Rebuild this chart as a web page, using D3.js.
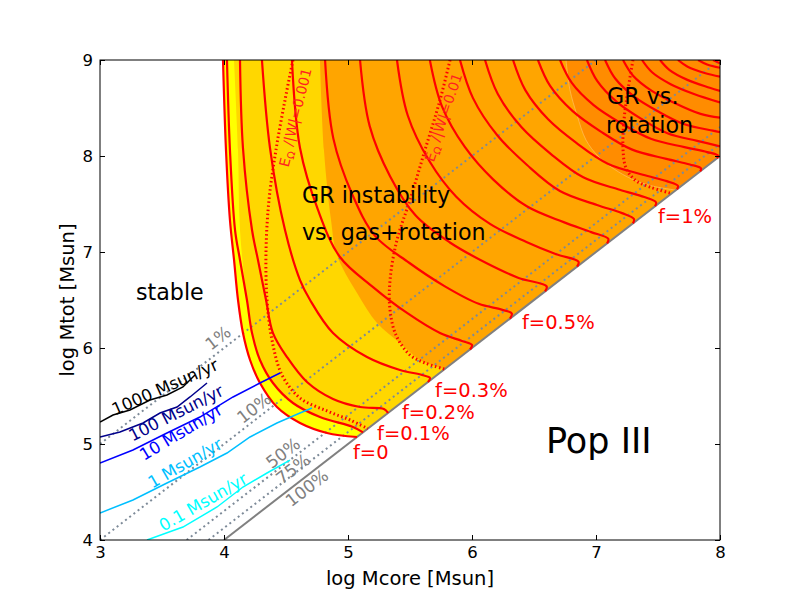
<!DOCTYPE html>
<html>
<head>
<meta charset="utf-8">
<script src="https://cdn.jsdelivr.net/npm/d3@7"></script>
<style>
  body { margin: 0; background: #fff; }
  text { font-family: "DejaVu Sans", sans-serif; }
</style>
</head>
<body>
<div id="chart"></div>
<script>
// axis ticks
const xTicks = [3, 4, 5, 6, 7, 8];
const yTicks = [4, 5, 6, 7, 8, 9];

// f = const curves as [log Mcore, log Mtot]
const fCurves = [
  [[3.992,9],[4.016,8.063],[4.048,7.333],[4.081,6.917],[4.113,6.5],[4.153,6.156],[4.21,5.875],[4.29,5.635],[4.427,5.385],[4.613,5.219],[4.831,5.115],[5.073,5.073]],
  [[4.024,9],[4.048,8.063],[4.089,7.229],[4.129,6.917],[4.185,6.5],[4.226,6.156],[4.29,5.875],[4.395,5.635],[4.556,5.427],[4.774,5.281],[5.04,5.177],[5.121,5.121]],
  [[4.129,9],[4.153,8.083],[4.226,7.229],[4.274,6.917],[4.339,6.5],[4.395,6.156],[4.508,5.906],[4.669,5.646],[4.879,5.469],[5.097,5.385],[5.29,5.365],[5.323,5.323]],
  [[4.306,9],[4.371,8.083],[4.492,7.229],[4.613,6.708],[4.694,6.5],[4.879,6.156],[5.153,5.906],[5.419,5.771],[5.597,5.719],[5.661,5.688],[5.645,5.645]],
  [[4.548,9],[4.613,8.083],[4.758,7.438],[4.935,6.948],[5.202,6.635],[5.476,6.365],[5.742,6.156],[5.919,6.073],[6.0,6.031],[5.984,5.984]],
  [[4.815,9],[4.882,8.181],[5.033,7.604],[5.218,7.168],[5.493,6.888],[5.778,6.645],[6.054,6.46],[6.239,6.4],[6.321,6.36],[6.306,6.306]],
  [[5.097,9],[5.175,8.311],[5.34,7.787],[5.544,7.382],[5.822,7.099],[6.115,6.885],[6.376,6.73],[6.602,6.642],[6.589,6.589]],
  [[5.395,9],[5.482,8.422],[5.656,7.948],[5.873,7.576],[6.145,7.293],[6.439,7.104],[6.679,6.976],[6.859,6.898],[6.847,6.847]],
  [[5.66,9],[5.757,8.52],[5.942,8.094],[6.172,7.754],[6.442,7.476],[6.739,7.311],[6.961,7.207],[7.099,7.137],[7.089,7.089]],
  [[5.903,9],[6.008,8.603],[6.202,8.219],[6.444,7.906],[6.709,7.635],[7.008,7.49],[7.21,7.405],[7.306,7.344],[7.298,7.298]],
  [[6.105,9],[6.208,8.645],[6.398,8.301],[6.637,8.02],[6.897,7.778],[7.191,7.648],[7.39,7.572],[7.484,7.517],[7.476,7.476]],
  [[6.331,9],[6.43,8.686],[6.614,8.382],[6.844,8.134],[7.095,7.92],[7.378,7.805],[7.57,7.738],[7.661,7.689],[7.653,7.653]],
  [[6.532,9],[6.63,8.73],[6.812,8.467],[7.039,8.254],[7.287,8.069],[7.567,7.97],[7.757,7.912],[7.847,7.87],[7.839,7.839]],
  [[6.71,9],[6.805,8.761],[6.981,8.53],[7.201,8.342],[7.442,8.179],[7.713,8.092],[7.896,8.041],[7.984,8.004],[7.976,7.976]],
  [[6.927,9],[7.011,8.779],[7.167,8.564],[7.363,8.389],[7.576,8.238],[7.816,8.157],[8.0,8.101]],
  [[7.073,9],[7.155,8.807],[7.308,8.619],[7.499,8.466],[7.707,8.334],[7.942,8.264],[8.0,8.249]],
  [[7.218,9],[7.299,8.837],[7.45,8.679],[7.638,8.55],[7.843,8.439],[8.0,8.399]],
  [[7.371,9],[7.452,8.872],[7.602,8.748],[7.79,8.646],[8.0,8.558]],
  [[7.516,9],[7.594,8.895],[7.737,8.793],[7.917,8.711],[8.0,8.677]],
  [[7.661,9],[7.739,8.93],[7.883,8.862],[8.0,8.827]],
  [[7.823,9],[7.896,8.953],[8.0,8.919]],
  [[7.944,9],[8.0,8.965]]
];

// labelled f curves: [text, log Mcore, log Mtot] of label baseline start
const fLabels = [
  ["f=0", 5.04, 4.84],
  ["f=0.1%", 5.234, 5.045],
  ["f=0.2%", 5.435, 5.26],
  ["f=0.3%", 5.702, 5.49],
  ["f=0.5%", 6.403, 6.198],
  ["f=1%", 7.500, 7.302]
];

// E_rot/|W| dotted contours
const eRot001 = [[4.556,9],[4.492,8.583],[4.419,8.063],[4.363,7.542],[4.339,7.021],[4.347,6.5],[4.387,6.083],[4.468,5.719],[4.613,5.479],[4.831,5.344],[5.016,5.25],[5.16,5.16]];
const eRot01 = [[5.823,9],[5.742,8.583],[5.621,8.063],[5.5,7.542],[5.395,7.125],[5.339,6.708],[5.339,6.396],[5.387,6.135],[5.5,5.927],[5.621,5.844],[5.78,5.78]];
const eRotHigh = [[7.298,9],[7.258,8.688],[7.226,8.375],[7.218,8.063],[7.242,7.875],[7.315,7.75],[7.435,7.677],[7.61,7.61]];

// region edges
const yellowEdge = [[4.081,9],[4.113,8.063],[4.129,7.229],[4.185,6.5],[4.226,6.156],[4.29,5.875],[4.395,5.635],[4.556,5.427],[4.774,5.281],[5.04,5.177],[5.121,5.121]];
const orangeEdge = [[4.774,9],[4.806,8.063],[4.863,7.333],[4.911,6.969],[5.073,6.573],[5.234,6.26],[5.419,6.052],[5.581,5.875],[5.78,5.78]];
const darkOrangeEdge = [[6.758,9],[6.79,8.688],[6.847,8.427],[6.919,8.167],[7.016,8.0],[7.145,7.865],[7.29,7.76],[7.452,7.688],[7.645,7.645]];

// accretion rate lines
const rateNames = ["1000 Msun/yr", "100 Msun/yr", "10 Msun/yr", "1 Msun/yr", "0.1 Msun/yr"];
const rateColors = ["#000000", "#00008b", "#0000ff", "#00bfff", "#00ffff"];
const rateLines = [
  [[3.0,5.229],[3.105,5.302],[3.242,5.354],[3.403,5.458],[3.54,5.51],[3.669,5.594],[3.766,5.719]],
  [[3.0,5.073],[3.161,5.125],[3.347,5.219],[3.484,5.323],[3.621,5.385],[3.726,5.49],[3.863,5.635]],
  [[3.0,4.802],[3.266,4.938],[3.54,5.115],[3.806,5.281],[4.073,5.49],[4.29,5.635],[4.452,5.74]],
  [[3.0,4.281],[3.266,4.417],[3.54,4.594],[3.806,4.76],[4.024,4.906],[4.21,5.073],[4.427,5.219],[4.613,5.323],[4.71,5.375]],
  [[3.379,4.0],[3.669,4.135],[3.944,4.344],[4.153,4.552],[4.347,4.698],[4.532,4.833]]
];
// label centre [log Mcore, log Mtot] and angle
const rateLabelPos = [[3.524,5.594,-24],[3.613,5.323,-27],[3.653,5.125,-31],[3.685,4.802,-30],[3.831,4.396,-30]];

// core mass fraction lines: Mcore/Mtot
const fracNames = ["1%", "10%", "50%", "75%", "100%"];
const fracOffsets = [2, 1, 0.301, 0.125, 0];
const fracLabelPos = [[3.952,6.104],[4.242,5.375],[4.476,4.906],[4.556,4.74],[4.669,4.542]];

const margin = { top: 60, right: 80, bottom: 60, left: 100 };
const width = 800 - margin.left - margin.right;
const height = 600 - margin.top - margin.bottom;

const svg = d3.select("#chart")
  .append("svg")
  .attr("width", 800)
  .attr("height", 600)
  .append("g")
  .attr("transform", "translate(" + margin.left + "," + margin.top + ")");

const x = d3.scaleLinear().domain([3, 8]).range([0, width]);
const y = d3.scaleLinear().domain([4, 9]).range([height, 0]);

svg.append("clipPath").attr("id", "plot-clip")
  .append("rect").attr("width", width).attr("height", height);

const plot = svg.append("g").attr("clip-path", "url(#plot-clip)");

const smooth = d3.line().x(d => x(d[0])).y(d => y(d[1])).curve(d3.curveCatmullRom.alpha(0.5));
const straight = d3.line().x(d => x(d[0])).y(d => y(d[1]));

// region filled from an edge out to the diagonal and the top-right corner
function regionPath(edge) {
  return smooth(edge) + "L" + x(8) + "," + y(8) + "L" + x(8) + "," + y(9) + "Z";
}

plot.append("path").attr("d", regionPath(fCurves[0])).attr("fill", "#ffd700");
plot.append("path").attr("d", regionPath(orangeEdge)).attr("fill", "#ffa500");
plot.append("path").attr("d", regionPath(darkOrangeEdge)).attr("fill", "#ff8c00")
  .attr("stroke", "#ffc870").attr("stroke-width", 0.6);
plot.append("path")
  .attr("d", smooth(fCurves[0]) + smooth(yellowEdge.slice().reverse()).replace(/^M/, "L") + "Z")
  .attr("fill", "#ffff00");

// mass fraction lines
fracOffsets.forEach((off, i) => {
  const x0 = Math.max(3, 4 - off);
  const x1 = Math.min(8, 9 - off);
  plot.append("path")
    .attr("d", straight([[x0, x0 + off], [x1, x1 + off]]))
    .attr("fill", "none")
    .attr("stroke", off === 0 ? "#808080" : "#7d8a98")
    .attr("stroke-width", 2)
    .attr("stroke-dasharray", off === 0 ? null : "2,3.3");
});

// f curves
plot.selectAll(".fcurve")
  .data(fCurves)
  .enter().append("path")
  .attr("class", "fcurve")
  .attr("d", smooth)
  .attr("fill", "none")
  .attr("stroke", "#ff0000")
  .attr("stroke-width", 2.2);

// rotational energy contours
[eRot001, eRot01, eRotHigh].forEach(c => {
  plot.append("path")
    .attr("d", smooth(c))
    .attr("fill", "none")
    .attr("stroke", "#ff0000")
    .attr("stroke-width", 3)
    .attr("stroke-dasharray", "1.5,2.6");
});

// accretion rate lines
rateLines.forEach((line, i) => {
  plot.append("path")
    .attr("d", straight(line))
    .attr("fill", "none")
    .attr("stroke", rateColors[i])
    .attr("stroke-width", 1.5);
});

// frame and ticks
svg.append("rect").attr("width", width).attr("height", height)
  .attr("fill", "none").attr("stroke", "#000").attr("stroke-width", 1);

svg.append("g").attr("transform", "translate(0," + height + ")")
  .call(d3.axisBottom(x).tickValues(xTicks).tickFormat(d3.format("d"))
    .tickSizeInner(-5).tickSizeOuter(0).tickPadding(6));
svg.append("g")
  .call(d3.axisLeft(y).tickValues(yTicks).tickFormat(d3.format("d"))
    .tickSizeInner(-5).tickSizeOuter(0).tickPadding(7));
svg.append("g")
  .call(d3.axisTop(x).tickValues(xTicks).tickSizeInner(-5).tickSizeOuter(0).tickFormat(""));
svg.append("g").attr("transform", "translate(" + width + ",0)")
  .call(d3.axisRight(y).tickValues(yTicks).tickSizeInner(-5).tickSizeOuter(0).tickFormat(""));
svg.selectAll(".domain").remove();
svg.selectAll(".tick line").attr("stroke", "#000");
svg.selectAll(".tick text").attr("font-size", 16.5).attr("fill", "#000")
  .style("font-family", "DejaVu Sans");

// axis labels
svg.append("text").attr("x", width / 2).attr("y", height + 45)
  .attr("text-anchor", "middle").attr("font-size", 19.5).text("log Mcore [Msun]");
svg.append("text").attr("transform", "translate(-26," + height / 2 + ") rotate(-90)")
  .attr("text-anchor", "middle").attr("font-size", 19.5).text("log Mtot [Msun]");

// region labels
const regionLabels = [
  ["stable", 3.290, 6.5],
  ["GR instability", 4.629, 7.51],
  ["vs. gas+rotation", 4.629, 7.125],
  ["GR vs.", 7.089, 8.542],
  ["rotation", 7.081, 8.24]
];
regionLabels.forEach(l => {
  svg.append("text").attr("x", x(l[1])).attr("y", y(l[2]))
    .attr("font-size", 22.2).attr("fill", "#000").text(l[0]);
});
svg.append("text").attr("x", x(6.597)).attr("y", y(4.906))
  .attr("font-size", 35).attr("fill", "#000").text("Pop III");

// f labels
fLabels.forEach(l => {
  svg.append("text").attr("x", x(l[1])).attr("y", y(l[2]))
    .attr("font-size", 19.5).attr("fill", "#ff0000").text(l[0]);
});

// rate labels
rateLabelPos.forEach((p, i) => {
  svg.append("text")
    .attr("transform", "translate(" + x(p[0]) + "," + y(p[1]) + ") rotate(" + p[2] + ")")
    .attr("text-anchor", "middle").attr("dy", "0.35em")
    .attr("font-size", 16.7).attr("fill", rateColors[i]).text(rateNames[i]);
});

// fraction labels
fracLabelPos.forEach((p, i) => {
  svg.append("text")
    .attr("transform", "translate(" + x(p[0]) + "," + y(p[1]) + ") rotate(-37.7)")
    .attr("text-anchor", "middle").attr("dy", "0.35em")
    .attr("font-size", 17).attr("fill", "#808080").text(fracNames[i]);
});

// E_rot/|W| labels
const eLabels = [["=0.001", 4.58, 8.40, -76], ["=0.01", 5.774, 8.40, -71]];
eLabels.forEach(l => {
  const t = svg.append("text")
    .attr("transform", "translate(" + x(l[1]) + "," + y(l[2]) + ") rotate(" + l[3] + ")")
    .attr("text-anchor", "middle").attr("dy", "0.35em")
    .attr("font-size", 14).attr("fill", "#ff2020");
  t.append("tspan").text("E");
  t.append("tspan").attr("font-size", 10).attr("dy", "0.3em").text("\u03a9");
  t.append("tspan").attr("dy", "-0.3em").text(" /|W|" + l[0]);
});
</script>
</body>
</html>
